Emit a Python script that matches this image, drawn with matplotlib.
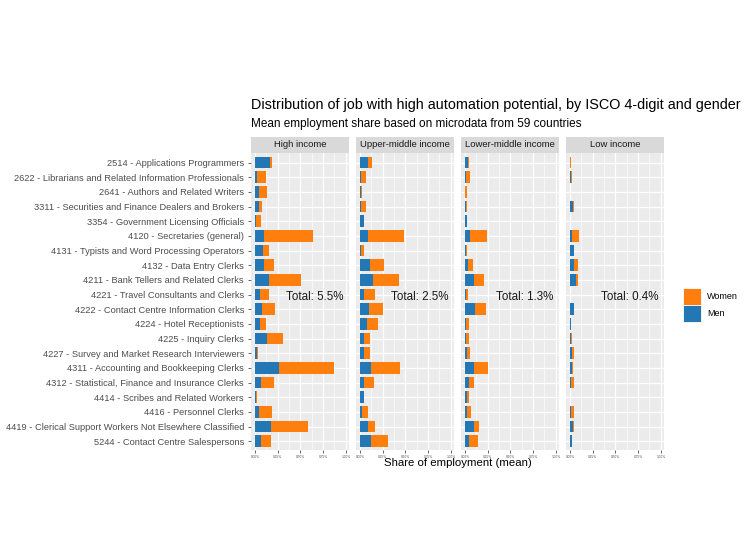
import numpy as np
import matplotlib
matplotlib.use('Agg')
import matplotlib.pyplot as plt
from matplotlib.patches import Patch
from matplotlib.ticker import MultipleLocator

plt.rcParams['font.family'] = ['Liberation Sans', 'DejaVu Sans']

# occupations, top to bottom
occupations = [
    '2514 - Applications Programmers',
    '2622 - Librarians and Related Information Professionals',
    '2641 - Authors and Related Writers',
    '3311 - Securities and Finance Dealers and Brokers',
    '3354 - Government Licensing Officials',
    '4120 - Secretaries (general)',
    '4131 - Typists and Word Processing Operators',
    '4132 - Data Entry Clerks',
    '4211 - Bank Tellers and Related Clerks',
    '4221 - Travel Consultants and Clerks',
    '4222 - Contact Centre Information Clerks',
    '4224 - Hotel Receptionists',
    '4225 - Inquiry Clerks',
    '4227 - Survey and Market Research Interviewers',
    '4311 - Accounting and Bookkeeping Clerks',
    '4312 - Statistical, Finance and Insurance Clerks',
    '4414 - Scribes and Related Workers',
    '4416 - Personnel Clerks',
    '4419 - Clerical Support Workers Not Elsewhere Classified',
    '5244 - Contact Centre Salespersons',
]

panels = ['High income', 'Upper-middle income', 'Lower-middle income', 'Low income']
totals = ['Total: 5.5%', 'Total: 2.5%', 'Total: 1.3%', 'Total: 0.4%']

# mean employment share (%)
high_men = [0.165, 0.025, 0.045, 0.045, 0.010, 0.093, 0.085, 0.100, 0.158, 0.055,
            0.073, 0.055, 0.135, 0.018, 0.268, 0.063, 0.008, 0.038, 0.178, 0.063]
high_women = [0.023, 0.093, 0.083, 0.028, 0.055, 0.550, 0.070, 0.113, 0.350, 0.093,
              0.148, 0.060, 0.168, 0.015, 0.598, 0.140, 0.010, 0.148, 0.400, 0.115]
upper_men = [0.090, 0.015, 0.008, 0.015, 0.038, 0.083, 0.010, 0.108, 0.138, 0.045,
             0.093, 0.075, 0.040, 0.038, 0.120, 0.045, 0.045, 0.025, 0.083, 0.120]
upper_women = [0.038, 0.055, 0.008, 0.048, 0.008, 0.403, 0.035, 0.160, 0.293, 0.115,
               0.158, 0.120, 0.068, 0.070, 0.318, 0.105, 0.003, 0.058, 0.085, 0.185]
lower_men = [0.033, 0.010, 0.003, 0.015, 0.018, 0.053, 0.010, 0.033, 0.093, 0.010,
             0.113, 0.015, 0.015, 0.018, 0.093, 0.038, 0.025, 0.025, 0.100, 0.040]
lower_women = [0.005, 0.045, 0.015, 0.003, 0.008, 0.190, 0.015, 0.050, 0.113, 0.023,
               0.120, 0.025, 0.033, 0.038, 0.158, 0.063, 0.020, 0.038, 0.058, 0.105]
low_men = [0.004, 0.008, 0.0, 0.033, 0.0, 0.018, 0.038, 0.040, 0.063, 0.0,
           0.038, 0.008, 0.010, 0.025, 0.025, 0.010, 0.0, 0.008, 0.030, 0.018]
low_women = [0.004, 0.015, 0.0, 0.005, 0.0, 0.075, 0.008, 0.043, 0.023, 0.0,
             0.003, 0.004, 0.008, 0.020, 0.008, 0.038, 0.004, 0.030, 0.008, 0.008]

men_all = [high_men, upper_men, lower_men, low_men]
women_all = [high_women, upper_women, lower_women, low_women]

x_ticks = [0, 0.25, 0.5, 0.75, 1.0]
tick_labels = ['0.00%', '0.25%', '0.50%', '0.75%', '1.00%']

c_men = '#2377B4'
c_women = '#FF7F0E'
bg = '#EBEBEB'

W, H = 750, 560
fig = plt.figure(figsize=(7.5, 5.6), dpi=100)

# panel geometry in pixels
left0, pw, gap = 251, 98, 7
top, bottom = 153, 450
strip_top = 137

y = np.arange(len(occupations))
for i, name in enumerate(panels):
    x0 = left0 + i * (pw + gap)
    ax = fig.add_axes([x0 / W, 1 - bottom / H, pw / W, (bottom - top) / H])
    ax.set_facecolor(bg)
    ax.barh(y, men_all[i], height=0.8, color=c_men, linewidth=0, zorder=3)
    ax.barh(y, women_all[i], left=men_all[i], height=0.8, color=c_women,
            linewidth=0, zorder=3)
    ax.set_xlim(-0.045, 1.035)
    ax.set_ylim(19.6, -0.65)
    ax.set_xticks(x_ticks)
    ax.set_xticklabels(tick_labels, fontsize=2.3, color='#4D4D4D')
    ax.xaxis.set_minor_locator(MultipleLocator(0.125))
    ax.set_yticks(y)
    ax.tick_params(axis='x', which='major', length=2, width=0.6,
                   color='#4D4D4D', pad=1.5)
    if i == 0:
        ax.set_yticklabels(occupations, fontsize=6.7, color='#4D4D4D')
        ax.tick_params(axis='y', which='major', length=2, width=0.6,
                       color='#4D4D4D', pad=3)
    else:
        ax.set_yticklabels([])
        ax.tick_params(axis='y', which='major', length=0)
    ax.tick_params(axis='x', which='minor', length=0)
    ax.grid(True, which='major', color='white', linewidth=0.9, zorder=0)
    ax.grid(True, which='minor', axis='x', color='white', linewidth=0.45, zorder=0)
    ax.set_axisbelow(True)
    for s in ax.spines.values():
        s.set_visible(False)
    ax.text(0.66, 9.2, totals[i], ha='center', va='center', fontsize=8.4,
            color='#1A1A1A', zorder=4)

    # strip header
    sx = fig.add_axes([x0 / W, 1 - top / H, pw / W, (top - strip_top) / H])
    sx.set_facecolor('#D9D9D9')
    sx.set_xticks([])
    sx.set_yticks([])
    for s in sx.spines.values():
        s.set_visible(False)
    sx.text(0.5, 0.5, name, ha='center', va='center', fontsize=6.8,
            color='#1A1A1A', transform=sx.transAxes)

fig.text(251 / W, 1 - 105 / H, 'Distribution of job with high automation potential, '
         'by ISCO 4-digit and gender', fontsize=10.4, color='black', va='center')
fig.text(251 / W, 1 - 124 / H, 'Mean employment share based on microdata from 59 countries',
         fontsize=8.5, color='black', va='center')
fig.text(458 / W, 1 - 463 / H, 'Share of employment (mean)', fontsize=8.2,
         color='black', ha='center', va='center')

handles = [Patch(facecolor=c_women, edgecolor='white', linewidth=0.6),
           Patch(facecolor=c_men, edgecolor='white', linewidth=0.6)]
fig.legend(handles, ['Women', 'Men'], loc='center left',
           bbox_to_anchor=(677 / W, 1 - 305 / H), frameon=False, fontsize=6.5,
           handlelength=2.0, handleheight=2.5, labelspacing=0.0,
           handletextpad=0.6, borderpad=0.2)

fig.savefig('out.png', dpi=100, facecolor='white')
